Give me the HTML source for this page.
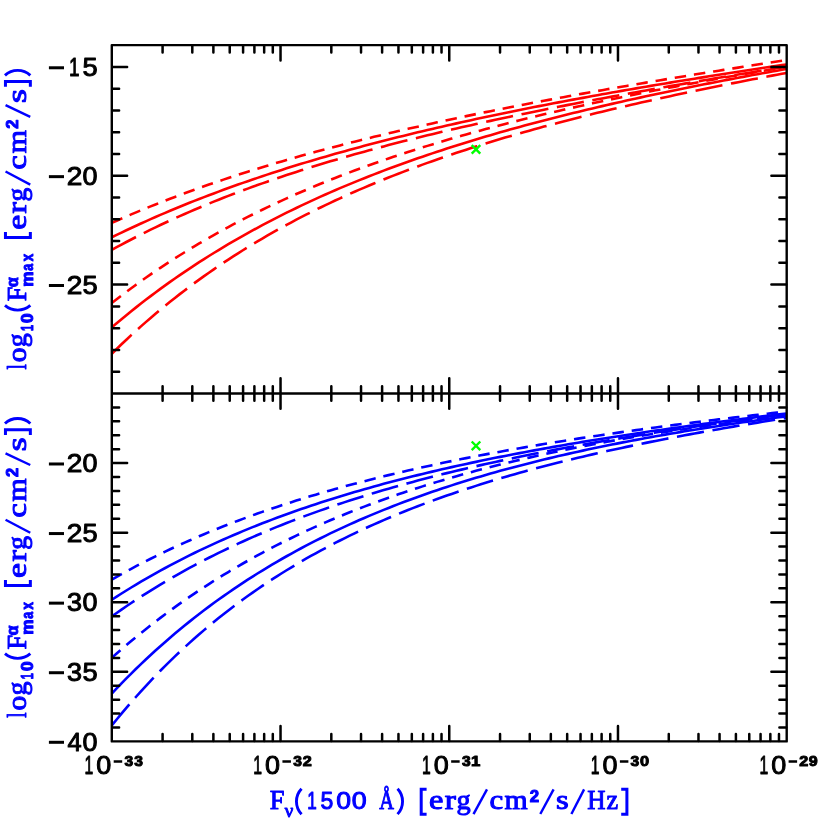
<!DOCTYPE html>
<html><head><meta charset="utf-8"><title>chart</title>
<style>html,body{margin:0;padding:0;background:#fff;overflow:hidden}svg{display:block;will-change:transform}text{font-kerning:none}</style></head>
<body>
<svg width="830" height="830" viewBox="0 0 830 830">
<rect width="830" height="830" fill="#fff"/>
<defs><clipPath id="ct"><rect x="111.80" y="45.10" width="674.90" height="348.40"/></clipPath>
<clipPath id="cb"><rect x="111.80" y="393.50" width="674.90" height="347.90"/></clipPath></defs>
<g clip-path="url(#ct)" fill="none" stroke="#ff0000" stroke-width="2.60">
<path d="M111.80 222.90 L116.66 220.74 L121.51 218.60 L126.37 216.50 L131.22 214.42 L136.08 212.37 L140.93 210.35 L145.79 208.35 L150.64 206.38 L155.50 204.44 L160.35 202.52 L165.21 200.62 L170.06 198.75 L174.92 196.91 L179.78 195.08 L184.63 193.28 L189.49 191.50 L194.34 189.74 L199.20 188.01 L204.05 186.29 L208.91 184.60 L213.76 182.93 L218.62 181.27 L223.47 179.64 L228.33 178.02 L233.18 176.43 L238.04 174.85 L242.90 173.29 L247.75 171.75 L252.61 170.22 L257.46 168.71 L262.32 167.22 L267.17 165.75 L272.03 164.29 L276.88 162.85 L281.74 161.42 L286.59 160.00 L291.45 158.61 L296.31 157.22 L301.16 155.85 L306.02 154.50 L310.87 153.16 L315.73 151.83 L320.58 150.52 L325.44 149.22 L330.29 147.93 L335.15 146.65 L340.00 145.39 L344.86 144.13 L349.71 142.89 L354.57 141.67 L359.43 140.45 L364.28 139.24 L369.14 138.05 L373.99 136.86 L378.85 135.69 L383.70 134.52 L388.56 133.37 L393.41 132.23 L398.27 131.09 L403.12 129.97 L407.98 128.85 L412.83 127.75 L417.69 126.65 L422.55 125.56 L427.40 124.48 L432.26 123.41 L437.11 122.35 L441.97 121.29 L446.82 120.24 L451.68 119.20 L456.53 118.17 L461.39 117.15 L466.24 116.13 L471.10 115.12 L475.95 114.12 L480.81 113.13 L485.67 112.14 L490.52 111.16 L495.38 110.18 L500.23 109.21 L505.09 108.25 L509.94 107.30 L514.80 106.35 L519.65 105.40 L524.51 104.46 L529.36 103.53 L534.22 102.61 L539.07 101.68 L543.93 100.77 L548.79 99.86 L553.64 98.95 L558.50 98.05 L563.35 97.16 L568.21 96.27 L573.06 95.38 L577.92 94.50 L582.77 93.63 L587.63 92.76 L592.48 91.89 L597.34 91.03 L602.19 90.17 L607.05 89.32 L611.91 88.47 L616.76 87.62 L621.62 86.78 L626.47 85.94 L631.33 85.11 L636.18 84.28 L641.04 83.45 L645.89 82.63 L650.75 81.81 L655.60 80.99 L660.46 80.18 L665.32 79.37 L670.17 78.57 L675.03 77.76 L679.88 76.96 L684.74 76.17 L689.59 75.37 L694.45 74.58 L699.30 73.80 L704.16 73.01 L709.01 72.23 L713.87 71.45 L718.72 70.68 L723.58 69.90 L728.44 69.13 L733.29 68.36 L738.15 67.60 L743.00 66.83 L747.86 66.07 L752.71 65.31 L757.57 64.56 L762.42 63.80 L767.28 63.05 L772.13 62.30 L776.99 61.55 L781.84 60.81 L786.70 60.06" stroke-dasharray="11.5 7.93" stroke-dashoffset="0"/>
<path d="M111.80 237.27 L116.66 234.90 L121.51 232.56 L126.37 230.25 L131.22 227.97 L136.08 225.72 L140.93 223.51 L145.79 221.32 L150.64 219.15 L155.50 217.02 L160.35 214.91 L165.21 212.83 L170.06 210.78 L174.92 208.75 L179.78 206.75 L184.63 204.77 L189.49 202.82 L194.34 200.90 L199.20 198.99 L204.05 197.11 L208.91 195.25 L213.76 193.42 L218.62 191.61 L223.47 189.82 L228.33 188.05 L233.18 186.30 L238.04 184.57 L242.90 182.86 L247.75 181.18 L252.61 179.51 L257.46 177.86 L262.32 176.23 L267.17 174.62 L272.03 173.03 L276.88 171.45 L281.74 169.90 L286.59 168.36 L291.45 166.83 L296.31 165.33 L301.16 163.84 L306.02 162.37 L310.87 160.91 L315.73 159.47 L320.58 158.04 L325.44 156.63 L330.29 155.24 L335.15 153.85 L340.00 152.49 L344.86 151.13 L349.71 149.79 L354.57 148.47 L359.43 147.15 L364.28 145.86 L369.14 144.57 L373.99 143.29 L378.85 142.03 L383.70 140.78 L388.56 139.55 L393.41 138.32 L398.27 137.11 L403.12 135.90 L407.98 134.71 L412.83 133.53 L417.69 132.36 L422.55 131.20 L427.40 130.05 L432.26 128.92 L437.11 127.79 L441.97 126.67 L446.82 125.56 L451.68 124.46 L456.53 123.37 L461.39 122.29 L466.24 121.22 L471.10 120.16 L475.95 119.10 L480.81 118.06 L485.67 117.02 L490.52 115.99 L495.38 114.97 L500.23 113.96 L505.09 112.96 L509.94 111.96 L514.80 110.97 L519.65 109.99 L524.51 109.01 L529.36 108.05 L534.22 107.09 L539.07 106.13 L543.93 105.19 L548.79 104.25 L553.64 103.31 L558.50 102.39 L563.35 101.47 L568.21 100.55 L573.06 99.65 L577.92 98.74 L582.77 97.85 L587.63 96.96 L592.48 96.07 L597.34 95.19 L602.19 94.32 L607.05 93.45 L611.91 92.59 L616.76 91.73 L621.62 90.88 L626.47 90.04 L631.33 89.19 L636.18 88.36 L641.04 87.53 L645.89 86.70 L650.75 85.87 L655.60 85.06 L660.46 84.24 L665.32 83.43 L670.17 82.63 L675.03 81.83 L679.88 81.03 L684.74 80.24 L689.59 79.45 L694.45 78.67 L699.30 77.89 L704.16 77.11 L709.01 76.34 L713.87 75.57 L718.72 74.80 L723.58 74.04 L728.44 73.28 L733.29 72.52 L738.15 71.77 L743.00 71.02 L747.86 70.28 L752.71 69.54 L757.57 68.80 L762.42 68.06 L767.28 67.33 L772.13 66.60 L776.99 65.87 L781.84 65.15 L786.70 64.43"/>
<path d="M111.80 249.89 L116.66 247.22 L121.51 244.60 L126.37 242.02 L131.22 239.48 L136.08 236.97 L140.93 234.51 L145.79 232.08 L150.64 229.69 L155.50 227.34 L160.35 225.02 L165.21 222.74 L170.06 220.49 L174.92 218.28 L179.78 216.09 L184.63 213.94 L189.49 211.82 L194.34 209.73 L199.20 207.68 L204.05 205.65 L208.91 203.64 L213.76 201.67 L218.62 199.73 L223.47 197.81 L228.33 195.91 L233.18 194.05 L238.04 192.21 L242.90 190.39 L247.75 188.60 L252.61 186.83 L257.46 185.08 L262.32 183.36 L267.17 181.66 L272.03 179.98 L276.88 178.32 L281.74 176.68 L286.59 175.06 L291.45 173.47 L296.31 171.89 L301.16 170.33 L306.02 168.79 L310.87 167.27 L315.73 165.76 L320.58 164.28 L325.44 162.81 L330.29 161.36 L335.15 159.92 L340.00 158.50 L344.86 157.10 L349.71 155.71 L354.57 154.33 L359.43 152.97 L364.28 151.63 L369.14 150.30 L373.99 148.98 L378.85 147.68 L383.70 146.39 L388.56 145.11 L393.41 143.85 L398.27 142.60 L403.12 141.36 L407.98 140.13 L412.83 138.92 L417.69 137.71 L422.55 136.52 L427.40 135.34 L432.26 134.16 L437.11 133.00 L441.97 131.85 L446.82 130.71 L451.68 129.58 L456.53 128.46 L461.39 127.35 L466.24 126.24 L471.10 125.15 L475.95 124.06 L480.81 122.99 L485.67 121.92 L490.52 120.86 L495.38 119.81 L500.23 118.77 L505.09 117.73 L509.94 116.70 L514.80 115.68 L519.65 114.67 L524.51 113.66 L529.36 112.66 L534.22 111.67 L539.07 110.68 L543.93 109.70 L548.79 108.73 L553.64 107.76 L558.50 106.80 L563.35 105.85 L568.21 104.90 L573.06 103.96 L577.92 103.02 L582.77 102.09 L587.63 101.16 L592.48 100.24 L597.34 99.33 L602.19 98.41 L607.05 97.51 L611.91 96.61 L616.76 95.71 L621.62 94.82 L626.47 93.93 L631.33 93.05 L636.18 92.17 L641.04 91.30 L645.89 90.43 L650.75 89.56 L655.60 88.70 L660.46 87.84 L665.32 86.99 L670.17 86.14 L675.03 85.29 L679.88 84.45 L684.74 83.61 L689.59 82.77 L694.45 81.94 L699.30 81.11 L704.16 80.28 L709.01 79.46 L713.87 78.64 L718.72 77.82 L723.58 77.01 L728.44 76.20 L733.29 75.39 L738.15 74.58 L743.00 73.78 L747.86 72.98 L752.71 72.18 L757.57 71.39 L762.42 70.60 L767.28 69.81 L772.13 69.02 L776.99 68.23 L781.84 67.45 L786.70 66.67" stroke-dasharray="27.4 8.7" stroke-dashoffset="0"/>
<path d="M111.80 302.98 L116.66 299.20 L121.51 295.48 L126.37 291.82 L131.22 288.23 L136.08 284.68 L140.93 281.20 L145.79 277.77 L150.64 274.40 L155.50 271.08 L160.35 267.81 L165.21 264.60 L170.06 261.43 L174.92 258.31 L179.78 255.25 L184.63 252.23 L189.49 249.26 L194.34 246.33 L199.20 243.45 L204.05 240.61 L208.91 237.82 L213.76 235.06 L218.62 232.36 L223.47 229.69 L228.33 227.06 L233.18 224.47 L238.04 221.92 L242.90 219.40 L247.75 216.93 L252.61 214.49 L257.46 212.08 L262.32 209.72 L267.17 207.38 L272.03 205.08 L276.88 202.81 L281.74 200.58 L286.59 198.37 L291.45 196.20 L296.31 194.06 L301.16 191.95 L306.02 189.86 L310.87 187.81 L315.73 185.78 L320.58 183.79 L325.44 181.82 L330.29 179.87 L335.15 177.95 L340.00 176.06 L344.86 174.20 L349.71 172.35 L354.57 170.54 L359.43 168.74 L364.28 166.97 L369.14 165.22 L373.99 163.50 L378.85 161.79 L383.70 160.11 L388.56 158.45 L393.41 156.81 L398.27 155.19 L403.12 153.59 L407.98 152.01 L412.83 150.45 L417.69 148.91 L422.55 147.38 L427.40 145.88 L432.26 144.39 L437.11 142.92 L441.97 141.47 L446.82 140.03 L451.68 138.61 L456.53 137.21 L461.39 135.82 L466.24 134.44 L471.10 133.09 L475.95 131.74 L480.81 130.42 L485.67 129.10 L490.52 127.80 L495.38 126.52 L500.23 125.25 L505.09 123.99 L509.94 122.74 L514.80 121.51 L519.65 120.29 L524.51 119.08 L529.36 117.88 L534.22 116.70 L539.07 115.52 L543.93 114.36 L548.79 113.21 L553.64 112.07 L558.50 110.95 L563.35 109.83 L568.21 108.72 L573.06 107.62 L577.92 106.53 L582.77 105.46 L587.63 104.39 L592.48 103.33 L597.34 102.28 L602.19 101.24 L607.05 100.21 L611.91 99.18 L616.76 98.17 L621.62 97.16 L626.47 96.16 L631.33 95.17 L636.18 94.19 L641.04 93.22 L645.89 92.25 L650.75 91.29 L655.60 90.34 L660.46 89.39 L665.32 88.45 L670.17 87.52 L675.03 86.60 L679.88 85.68 L684.74 84.77 L689.59 83.86 L694.45 82.96 L699.30 82.07 L704.16 81.18 L709.01 80.30 L713.87 79.43 L718.72 78.56 L723.58 77.69 L728.44 76.84 L733.29 75.98 L738.15 75.13 L743.00 74.29 L747.86 73.45 L752.71 72.62 L757.57 71.79 L762.42 70.97 L767.28 70.15 L772.13 69.34 L776.99 68.53 L781.84 67.72 L786.70 66.92" stroke-dasharray="11.5 7.93" stroke-dashoffset="0"/>
<path d="M111.80 327.38 L116.66 323.25 L121.51 319.19 L126.37 315.19 L131.22 311.25 L136.08 307.38 L140.93 303.56 L145.79 299.81 L150.64 296.12 L155.50 292.48 L160.35 288.90 L165.21 285.38 L170.06 281.91 L174.92 278.50 L179.78 275.14 L184.63 271.83 L189.49 268.57 L194.34 265.36 L199.20 262.20 L204.05 259.09 L208.91 256.02 L213.76 253.00 L218.62 250.03 L223.47 247.10 L228.33 244.21 L233.18 241.37 L238.04 238.57 L242.90 235.81 L247.75 233.09 L252.61 230.41 L257.46 227.77 L262.32 225.17 L267.17 222.60 L272.03 220.07 L276.88 217.58 L281.74 215.12 L286.59 212.70 L291.45 210.31 L296.31 207.96 L301.16 205.64 L306.02 203.35 L310.87 201.09 L315.73 198.86 L320.58 196.67 L325.44 194.50 L330.29 192.36 L335.15 190.25 L340.00 188.17 L344.86 186.12 L349.71 184.10 L354.57 182.10 L359.43 180.12 L364.28 178.18 L369.14 176.26 L373.99 174.36 L378.85 172.49 L383.70 170.64 L388.56 168.81 L393.41 167.01 L398.27 165.23 L403.12 163.47 L407.98 161.73 L412.83 160.02 L417.69 158.33 L422.55 156.65 L427.40 155.00 L432.26 153.36 L437.11 151.75 L441.97 150.15 L446.82 148.58 L451.68 147.02 L456.53 145.48 L461.39 143.95 L466.24 142.45 L471.10 140.96 L475.95 139.49 L480.81 138.03 L485.67 136.59 L490.52 135.16 L495.38 133.76 L500.23 132.36 L505.09 130.98 L509.94 129.62 L514.80 128.27 L519.65 126.93 L524.51 125.61 L529.36 124.30 L534.22 123.00 L539.07 121.72 L543.93 120.45 L548.79 119.19 L553.64 117.95 L558.50 116.71 L563.35 115.49 L568.21 114.28 L573.06 113.08 L577.92 111.90 L582.77 110.72 L587.63 109.55 L592.48 108.40 L597.34 107.25 L602.19 106.12 L607.05 105.00 L611.91 103.88 L616.76 102.78 L621.62 101.68 L626.47 100.59 L631.33 99.52 L636.18 98.45 L641.04 97.39 L645.89 96.34 L650.75 95.29 L655.60 94.26 L660.46 93.23 L665.32 92.21 L670.17 91.20 L675.03 90.20 L679.88 89.20 L684.74 88.21 L689.59 87.23 L694.45 86.26 L699.30 85.29 L704.16 84.33 L709.01 83.38 L713.87 82.43 L718.72 81.49 L723.58 80.56 L728.44 79.63 L733.29 78.71 L738.15 77.79 L743.00 76.88 L747.86 75.98 L752.71 75.08 L757.57 74.19 L762.42 73.30 L767.28 72.42 L772.13 71.54 L776.99 70.67 L781.84 69.80 L786.70 68.94"/>
<path d="M111.80 353.71 L116.66 348.95 L121.51 344.28 L126.37 339.69 L131.22 335.17 L136.08 330.74 L140.93 326.39 L145.79 322.11 L150.64 317.90 L155.50 313.77 L160.35 309.71 L165.21 305.72 L170.06 301.80 L174.92 297.94 L179.78 294.15 L184.63 290.42 L189.49 286.76 L194.34 283.16 L199.20 279.62 L204.05 276.14 L208.91 272.71 L213.76 269.34 L218.62 266.03 L223.47 262.77 L228.33 259.57 L233.18 256.42 L238.04 253.32 L242.90 250.27 L247.75 247.26 L252.61 244.31 L257.46 241.40 L262.32 238.54 L267.17 235.72 L272.03 232.95 L276.88 230.22 L281.74 227.54 L286.59 224.89 L291.45 222.29 L296.31 219.72 L301.16 217.20 L306.02 214.71 L310.87 212.26 L315.73 209.85 L320.58 207.47 L325.44 205.13 L330.29 202.82 L335.15 200.55 L340.00 198.31 L344.86 196.10 L349.71 193.92 L354.57 191.77 L359.43 189.66 L364.28 187.57 L369.14 185.52 L373.99 183.49 L378.85 181.49 L383.70 179.51 L388.56 177.57 L393.41 175.65 L398.27 173.75 L403.12 171.89 L407.98 170.04 L412.83 168.22 L417.69 166.42 L422.55 164.65 L427.40 162.90 L432.26 161.17 L437.11 159.47 L441.97 157.78 L446.82 156.12 L451.68 154.47 L456.53 152.85 L461.39 151.24 L466.24 149.66 L471.10 148.09 L475.95 146.54 L480.81 145.02 L485.67 143.50 L490.52 142.01 L495.38 140.53 L500.23 139.07 L505.09 137.62 L509.94 136.20 L514.80 134.78 L519.65 133.38 L524.51 132.00 L529.36 130.63 L534.22 129.28 L539.07 127.94 L543.93 126.61 L548.79 125.30 L553.64 124.00 L558.50 122.71 L563.35 121.44 L568.21 120.18 L573.06 118.93 L577.92 117.69 L582.77 116.47 L587.63 115.25 L592.48 114.05 L597.34 112.86 L602.19 111.68 L607.05 110.50 L611.91 109.34 L616.76 108.19 L621.62 107.05 L626.47 105.92 L631.33 104.80 L636.18 103.69 L641.04 102.59 L645.89 101.49 L650.75 100.41 L655.60 99.33 L660.46 98.26 L665.32 97.20 L670.17 96.15 L675.03 95.10 L679.88 94.07 L684.74 93.04 L689.59 92.02 L694.45 91.00 L699.30 89.99 L704.16 88.99 L709.01 88.00 L713.87 87.01 L718.72 86.03 L723.58 85.06 L728.44 84.09 L733.29 83.13 L738.15 82.17 L743.00 81.22 L747.86 80.28 L752.71 79.34 L757.57 78.41 L762.42 77.48 L767.28 76.56 L772.13 75.64 L776.99 74.73 L781.84 73.82 L786.70 72.92" stroke-dasharray="27.4 8.7" stroke-dashoffset="0"/>
</g>
<g clip-path="url(#cb)" fill="none" stroke="#0000ff" stroke-width="2.60">
<path d="M111.80 579.52 L116.66 576.76 L121.51 574.06 L126.37 571.39 L131.22 568.77 L136.08 566.20 L140.93 563.66 L145.79 561.17 L150.64 558.72 L155.50 556.30 L160.35 553.93 L165.21 551.59 L170.06 549.29 L174.92 547.03 L179.78 544.81 L184.63 542.62 L189.49 540.46 L194.34 538.34 L199.20 536.25 L204.05 534.20 L208.91 532.17 L213.76 530.18 L218.62 528.22 L223.47 526.29 L228.33 524.39 L233.18 522.52 L238.04 520.67 L242.90 518.86 L247.75 517.07 L252.61 515.31 L257.46 513.58 L262.32 511.87 L267.17 510.19 L272.03 508.53 L276.88 506.90 L281.74 505.29 L286.59 503.70 L291.45 502.14 L296.31 500.60 L301.16 499.08 L306.02 497.59 L310.87 496.11 L315.73 494.66 L320.58 493.23 L325.44 491.82 L330.29 490.42 L335.15 489.05 L340.00 487.70 L344.86 486.36 L349.71 485.05 L354.57 483.75 L359.43 482.47 L364.28 481.20 L369.14 479.96 L373.99 478.73 L378.85 477.51 L383.70 476.32 L388.56 475.13 L393.41 473.97 L398.27 472.82 L403.12 471.68 L407.98 470.56 L412.83 469.45 L417.69 468.36 L422.55 467.28 L427.40 466.21 L432.26 465.16 L437.11 464.12 L441.97 463.09 L446.82 462.08 L451.68 461.07 L456.53 460.08 L461.39 459.10 L466.24 458.14 L471.10 457.18 L475.95 456.24 L480.81 455.30 L485.67 454.38 L490.52 453.47 L495.38 452.56 L500.23 451.67 L505.09 450.79 L509.94 449.92 L514.80 449.05 L519.65 448.20 L524.51 447.35 L529.36 446.52 L534.22 445.69 L539.07 444.87 L543.93 444.06 L548.79 443.26 L553.64 442.47 L558.50 441.68 L563.35 440.91 L568.21 440.14 L573.06 439.38 L577.92 438.62 L582.77 437.87 L587.63 437.13 L592.48 436.40 L597.34 435.67 L602.19 434.96 L607.05 434.24 L611.91 433.54 L616.76 432.84 L621.62 432.14 L626.47 431.45 L631.33 430.77 L636.18 430.10 L641.04 429.43 L645.89 428.76 L650.75 428.10 L655.60 427.45 L660.46 426.80 L665.32 426.16 L670.17 425.52 L675.03 424.89 L679.88 424.26 L684.74 423.64 L689.59 423.02 L694.45 422.41 L699.30 421.80 L704.16 421.19 L709.01 420.59 L713.87 420.00 L718.72 419.41 L723.58 418.82 L728.44 418.24 L733.29 417.66 L738.15 417.08 L743.00 416.51 L747.86 415.94 L752.71 415.38 L757.57 414.82 L762.42 414.26 L767.28 413.71 L772.13 413.16 L776.99 412.61 L781.84 412.07 L786.70 411.53" stroke-dasharray="11.5 7.93" stroke-dashoffset="0"/>
<path d="M111.80 599.74 L116.66 596.60 L121.51 593.52 L126.37 590.48 L131.22 587.50 L136.08 584.57 L140.93 581.69 L145.79 578.86 L150.64 576.08 L155.50 573.34 L160.35 570.65 L165.21 568.01 L170.06 565.41 L174.92 562.85 L179.78 560.34 L184.63 557.86 L189.49 555.43 L194.34 553.04 L199.20 550.68 L204.05 548.37 L208.91 546.09 L213.76 543.85 L218.62 541.65 L223.47 539.48 L228.33 537.34 L233.18 535.24 L238.04 533.18 L242.90 531.14 L247.75 529.14 L252.61 527.17 L257.46 525.23 L262.32 523.32 L267.17 521.44 L272.03 519.59 L276.88 517.77 L281.74 515.98 L286.59 514.21 L291.45 512.47 L296.31 510.76 L301.16 509.07 L306.02 507.41 L310.87 505.77 L315.73 504.16 L320.58 502.57 L325.44 501.00 L330.29 499.46 L335.15 497.94 L340.00 496.44 L344.86 494.97 L349.71 493.51 L354.57 492.07 L359.43 490.66 L364.28 489.26 L369.14 487.89 L373.99 486.53 L378.85 485.19 L383.70 483.87 L388.56 482.57 L393.41 481.29 L398.27 480.02 L403.12 478.77 L407.98 477.54 L412.83 476.32 L417.69 475.12 L422.55 473.94 L427.40 472.77 L432.26 471.62 L437.11 470.48 L441.97 469.35 L446.82 468.24 L451.68 467.14 L456.53 466.06 L461.39 464.99 L466.24 463.93 L471.10 462.89 L475.95 461.86 L480.81 460.84 L485.67 459.83 L490.52 458.84 L495.38 457.85 L500.23 456.88 L505.09 455.92 L509.94 454.97 L514.80 454.03 L519.65 453.10 L524.51 452.18 L529.36 451.27 L534.22 450.37 L539.07 449.48 L543.93 448.61 L548.79 447.74 L553.64 446.87 L558.50 446.02 L563.35 445.18 L568.21 444.34 L573.06 443.52 L577.92 442.70 L582.77 441.89 L587.63 441.09 L592.48 440.29 L597.34 439.51 L602.19 438.73 L607.05 437.96 L611.91 437.19 L616.76 436.44 L621.62 435.69 L626.47 434.94 L631.33 434.21 L636.18 433.48 L641.04 432.75 L645.89 432.03 L650.75 431.32 L655.60 430.62 L660.46 429.92 L665.32 429.22 L670.17 428.53 L675.03 427.85 L679.88 427.17 L684.74 426.50 L689.59 425.84 L694.45 425.17 L699.30 424.52 L704.16 423.87 L709.01 423.22 L713.87 422.58 L718.72 421.94 L723.58 421.31 L728.44 420.68 L733.29 420.05 L738.15 419.43 L743.00 418.82 L747.86 418.21 L752.71 417.60 L757.57 417.00 L762.42 416.40 L767.28 415.80 L772.13 415.21 L776.99 414.62 L781.84 414.04 L786.70 413.46"/>
<path d="M111.80 616.41 L116.66 612.97 L121.51 609.60 L126.37 606.28 L131.22 603.02 L136.08 599.82 L140.93 596.67 L145.79 593.57 L150.64 590.53 L155.50 587.54 L160.35 584.60 L165.21 581.71 L170.06 578.87 L174.92 576.07 L179.78 573.33 L184.63 570.63 L189.49 567.97 L194.34 565.36 L199.20 562.79 L204.05 560.26 L208.91 557.78 L213.76 555.33 L218.62 552.93 L223.47 550.56 L228.33 548.23 L233.18 545.94 L238.04 543.69 L242.90 541.47 L247.75 539.29 L252.61 537.15 L257.46 535.03 L262.32 532.95 L267.17 530.91 L272.03 528.89 L276.88 526.91 L281.74 524.96 L286.59 523.03 L291.45 521.14 L296.31 519.28 L301.16 517.44 L306.02 515.63 L310.87 513.85 L315.73 512.10 L320.58 510.37 L325.44 508.67 L330.29 506.99 L335.15 505.34 L340.00 503.71 L344.86 502.11 L349.71 500.52 L354.57 498.97 L359.43 497.43 L364.28 495.92 L369.14 494.42 L373.99 492.95 L378.85 491.50 L383.70 490.07 L388.56 488.66 L393.41 487.27 L398.27 485.89 L403.12 484.54 L407.98 483.20 L412.83 481.89 L417.69 480.59 L422.55 479.30 L427.40 478.04 L432.26 476.79 L437.11 475.55 L441.97 474.34 L446.82 473.13 L451.68 471.95 L456.53 470.78 L461.39 469.62 L466.24 468.48 L471.10 467.35 L475.95 466.23 L480.81 465.13 L485.67 464.04 L490.52 462.97 L495.38 461.91 L500.23 460.86 L505.09 459.82 L509.94 458.79 L514.80 457.78 L519.65 456.78 L524.51 455.79 L529.36 454.81 L534.22 453.84 L539.07 452.88 L543.93 451.93 L548.79 450.99 L553.64 450.07 L558.50 449.15 L563.35 448.24 L568.21 447.34 L573.06 446.45 L577.92 445.57 L582.77 444.70 L587.63 443.84 L592.48 442.98 L597.34 442.14 L602.19 441.30 L607.05 440.47 L611.91 439.65 L616.76 438.84 L621.62 438.03 L626.47 437.23 L631.33 436.44 L636.18 435.65 L641.04 434.88 L645.89 434.11 L650.75 433.34 L655.60 432.58 L660.46 431.83 L665.32 431.09 L670.17 430.35 L675.03 429.62 L679.88 428.89 L684.74 428.17 L689.59 427.46 L694.45 426.75 L699.30 426.04 L704.16 425.35 L709.01 424.65 L713.87 423.97 L718.72 423.28 L723.58 422.61 L728.44 421.93 L733.29 421.27 L738.15 420.60 L743.00 419.94 L747.86 419.29 L752.71 418.64 L757.57 417.99 L762.42 417.35 L767.28 416.72 L772.13 416.08 L776.99 415.45 L781.84 414.83 L786.70 414.21" stroke-dasharray="27.4 8.7" stroke-dashoffset="0"/>
<path d="M111.80 657.89 L116.66 653.57 L121.51 649.33 L126.37 645.16 L131.22 641.07 L136.08 637.04 L140.93 633.07 L145.79 629.18 L150.64 625.35 L155.50 621.58 L160.35 617.87 L165.21 614.23 L170.06 610.65 L174.92 607.13 L179.78 603.66 L184.63 600.26 L189.49 596.91 L194.34 593.61 L199.20 590.37 L204.05 587.18 L208.91 584.05 L213.76 580.97 L218.62 577.93 L223.47 574.95 L228.33 572.02 L233.18 569.13 L238.04 566.29 L242.90 563.50 L247.75 560.76 L252.61 558.06 L257.46 555.40 L262.32 552.78 L267.17 550.21 L272.03 547.68 L276.88 545.19 L281.74 542.74 L286.59 540.33 L291.45 537.96 L296.31 535.63 L301.16 533.33 L306.02 531.08 L310.87 528.85 L315.73 526.67 L320.58 524.51 L325.44 522.40 L330.29 520.31 L335.15 518.26 L340.00 516.24 L344.86 514.26 L349.71 512.30 L354.57 510.38 L359.43 508.48 L364.28 506.62 L369.14 504.78 L373.99 502.97 L378.85 501.19 L383.70 499.44 L388.56 497.72 L393.41 496.02 L398.27 494.35 L403.12 492.71 L407.98 491.09 L412.83 489.49 L417.69 487.92 L422.55 486.37 L427.40 484.85 L432.26 483.35 L437.11 481.87 L441.97 480.42 L446.82 478.98 L451.68 477.57 L456.53 476.18 L461.39 474.81 L466.24 473.46 L471.10 472.13 L475.95 470.82 L480.81 469.53 L485.67 468.26 L490.52 467.01 L495.38 465.77 L500.23 464.56 L505.09 463.36 L509.94 462.18 L514.80 461.01 L519.65 459.86 L524.51 458.73 L529.36 457.62 L534.22 456.52 L539.07 455.44 L543.93 454.37 L548.79 453.32 L553.64 452.28 L558.50 451.25 L563.35 450.24 L568.21 449.25 L573.06 448.27 L577.92 447.30 L582.77 446.35 L587.63 445.40 L592.48 444.48 L597.34 443.56 L602.19 442.66 L607.05 441.76 L611.91 440.88 L616.76 440.02 L621.62 439.16 L626.47 438.32 L631.33 437.48 L636.18 436.66 L641.04 435.85 L645.89 435.05 L650.75 434.25 L655.60 433.47 L660.46 432.70 L665.32 431.94 L670.17 431.19 L675.03 430.45 L679.88 429.71 L684.74 428.99 L689.59 428.28 L694.45 427.57 L699.30 426.87 L704.16 426.18 L709.01 425.50 L713.87 424.83 L718.72 424.17 L723.58 423.51 L728.44 422.86 L733.29 422.22 L738.15 421.59 L743.00 420.96 L747.86 420.35 L752.71 419.73 L757.57 419.13 L762.42 418.53 L767.28 417.94 L772.13 417.36 L776.99 416.78 L781.84 416.21 L786.70 415.64" stroke-dasharray="11.5 7.93" stroke-dashoffset="0"/>
<path d="M111.80 693.53 L116.66 688.40 L121.51 683.36 L126.37 678.42 L131.22 673.56 L136.08 668.79 L140.93 664.11 L145.79 659.51 L150.64 654.99 L155.50 650.55 L160.35 646.20 L165.21 641.92 L170.06 637.71 L174.92 633.58 L179.78 629.53 L184.63 625.54 L189.49 621.63 L194.34 617.78 L199.20 614.01 L204.05 610.30 L208.91 606.65 L213.76 603.07 L218.62 599.55 L223.47 596.09 L228.33 592.70 L233.18 589.36 L238.04 586.08 L242.90 582.86 L247.75 579.69 L252.61 576.58 L257.46 573.52 L262.32 570.52 L267.17 567.56 L272.03 564.66 L276.88 561.81 L281.74 559.00 L286.59 556.25 L291.45 553.54 L296.31 550.87 L301.16 548.26 L306.02 545.68 L310.87 543.15 L315.73 540.66 L320.58 538.22 L325.44 535.81 L330.29 533.45 L335.15 531.12 L340.00 528.83 L344.86 526.58 L349.71 524.37 L354.57 522.20 L359.43 520.06 L364.28 517.95 L369.14 515.88 L373.99 513.85 L378.85 511.84 L383.70 509.87 L388.56 507.93 L393.41 506.03 L398.27 504.15 L403.12 502.30 L407.98 500.49 L412.83 498.70 L417.69 496.94 L422.55 495.20 L427.40 493.50 L432.26 491.82 L437.11 490.17 L441.97 488.54 L446.82 486.94 L451.68 485.37 L456.53 483.81 L461.39 482.29 L466.24 480.78 L471.10 479.30 L475.95 477.84 L480.81 476.40 L485.67 474.99 L490.52 473.59 L495.38 472.22 L500.23 470.87 L505.09 469.54 L509.94 468.22 L514.80 466.93 L519.65 465.65 L524.51 464.40 L529.36 463.16 L534.22 461.94 L539.07 460.73 L543.93 459.55 L548.79 458.38 L553.64 457.23 L558.50 456.09 L563.35 454.97 L568.21 453.86 L573.06 452.77 L577.92 451.70 L582.77 450.64 L587.63 449.59 L592.48 448.56 L597.34 447.54 L602.19 446.54 L607.05 445.55 L611.91 444.57 L616.76 443.61 L621.62 442.65 L626.47 441.71 L631.33 440.79 L636.18 439.87 L641.04 438.97 L645.89 438.07 L650.75 437.19 L655.60 436.32 L660.46 435.46 L665.32 434.61 L670.17 433.77 L675.03 432.94 L679.88 432.13 L684.74 431.32 L689.59 430.52 L694.45 429.73 L699.30 428.95 L704.16 428.18 L709.01 427.41 L713.87 426.66 L718.72 425.91 L723.58 425.18 L728.44 424.45 L733.29 423.73 L738.15 423.01 L743.00 422.31 L747.86 421.61 L752.71 420.92 L757.57 420.24 L762.42 419.56 L767.28 418.89 L772.13 418.23 L776.99 417.58 L781.84 416.93 L786.70 416.29"/>
<path d="M111.80 725.45 L116.66 719.47 L121.51 713.62 L126.37 707.87 L131.22 702.25 L136.08 696.74 L140.93 691.34 L145.79 686.04 L150.64 680.85 L155.50 675.77 L160.35 670.78 L165.21 665.90 L170.06 661.11 L174.92 656.42 L179.78 651.81 L184.63 647.30 L189.49 642.88 L194.34 638.54 L199.20 634.29 L204.05 630.12 L208.91 626.03 L213.76 622.02 L218.62 618.09 L223.47 614.23 L228.33 610.45 L233.18 606.74 L238.04 603.10 L242.90 599.52 L247.75 596.02 L252.61 592.58 L257.46 589.21 L262.32 585.90 L267.17 582.65 L272.03 579.46 L276.88 576.34 L281.74 573.27 L286.59 570.25 L291.45 567.29 L296.31 564.39 L301.16 561.53 L306.02 558.73 L310.87 555.98 L315.73 553.28 L320.58 550.63 L325.44 548.03 L330.29 545.47 L335.15 542.96 L340.00 540.49 L344.86 538.06 L349.71 535.68 L354.57 533.34 L359.43 531.03 L364.28 528.77 L369.14 526.55 L373.99 524.36 L378.85 522.21 L383.70 520.10 L388.56 518.03 L393.41 515.98 L398.27 513.97 L403.12 512.00 L407.98 510.06 L412.83 508.14 L417.69 506.26 L422.55 504.41 L427.40 502.59 L432.26 500.80 L437.11 499.04 L441.97 497.30 L446.82 495.59 L451.68 493.91 L456.53 492.26 L461.39 490.62 L466.24 489.02 L471.10 487.44 L475.95 485.88 L480.81 484.34 L485.67 482.83 L490.52 481.34 L495.38 479.87 L500.23 478.42 L505.09 477.00 L509.94 475.59 L514.80 474.20 L519.65 472.84 L524.51 471.49 L529.36 470.16 L534.22 468.85 L539.07 467.55 L543.93 466.27 L548.79 465.02 L553.64 463.77 L558.50 462.54 L563.35 461.33 L568.21 460.14 L573.06 458.96 L577.92 457.79 L582.77 456.64 L587.63 455.50 L592.48 454.38 L597.34 453.27 L602.19 452.17 L607.05 451.09 L611.91 450.02 L616.76 448.96 L621.62 447.92 L626.47 446.88 L631.33 445.86 L636.18 444.85 L641.04 443.85 L645.89 442.86 L650.75 441.88 L655.60 440.91 L660.46 439.95 L665.32 439.00 L670.17 438.06 L675.03 437.14 L679.88 436.22 L684.74 435.30 L689.59 434.40 L694.45 433.51 L699.30 432.62 L704.16 431.75 L709.01 430.88 L713.87 430.02 L718.72 429.17 L723.58 428.32 L728.44 427.48 L733.29 426.65 L738.15 425.83 L743.00 425.01 L747.86 424.20 L752.71 423.40 L757.57 422.60 L762.42 421.81 L767.28 421.03 L772.13 420.25 L776.99 419.48 L781.84 418.71 L786.70 417.95" stroke-dasharray="27.4 8.7" stroke-dashoffset="0"/>
</g>
<path d="M471.70 145.10 L480.30 153.70 M471.70 153.70 L480.30 145.10" stroke="#00ff00" stroke-width="2.40" fill="none"/>
<path d="M471.70 441.50 L480.30 450.10 M471.70 450.10 L480.30 441.50" stroke="#00ff00" stroke-width="2.40" fill="none"/>
<g stroke="#000" stroke-width="2.40" fill="none" stroke-linecap="butt">
<rect x="111.80" y="45.10" width="674.90" height="696.30" stroke-linejoin="round"/>
<path d="M111.80 393.50 H786.70"/>
<path d="M162.59 45.60 v6.80 M162.59 386.20 v14.60 M162.59 740.90 v-6.80 M192.30 45.60 v6.80 M192.30 386.20 v14.60 M192.30 740.90 v-6.80 M213.38 45.60 v6.80 M213.38 386.20 v14.60 M213.38 740.90 v-6.80 M229.73 45.60 v6.80 M229.73 386.20 v14.60 M229.73 740.90 v-6.80 M243.09 45.60 v6.80 M243.09 386.20 v14.60 M243.09 740.90 v-6.80 M254.39 45.60 v6.80 M254.39 386.20 v14.60 M254.39 740.90 v-6.80 M264.17 45.60 v6.80 M264.17 386.20 v14.60 M264.17 740.90 v-6.80 M272.80 45.60 v6.80 M272.80 386.20 v14.60 M272.80 740.90 v-6.80 M280.53 45.60 v14.80 M280.53 378.20 v30.60 M280.53 740.90 v-14.80 M331.32 45.60 v6.80 M331.32 386.20 v14.60 M331.32 740.90 v-6.80 M361.03 45.60 v6.80 M361.03 386.20 v14.60 M361.03 740.90 v-6.80 M382.11 45.60 v6.80 M382.11 386.20 v14.60 M382.11 740.90 v-6.80 M398.46 45.60 v6.80 M398.46 386.20 v14.60 M398.46 740.90 v-6.80 M411.82 45.60 v6.80 M411.82 386.20 v14.60 M411.82 740.90 v-6.80 M423.11 45.60 v6.80 M423.11 386.20 v14.60 M423.11 740.90 v-6.80 M432.90 45.60 v6.80 M432.90 386.20 v14.60 M432.90 740.90 v-6.80 M441.53 45.60 v6.80 M441.53 386.20 v14.60 M441.53 740.90 v-6.80 M449.25 45.60 v14.80 M449.25 378.20 v30.60 M449.25 740.90 v-14.80 M500.04 45.60 v6.80 M500.04 386.20 v14.60 M500.04 740.90 v-6.80 M529.75 45.60 v6.80 M529.75 386.20 v14.60 M529.75 740.90 v-6.80 M550.83 45.60 v6.80 M550.83 386.20 v14.60 M550.83 740.90 v-6.80 M567.18 45.60 v6.80 M567.18 386.20 v14.60 M567.18 740.90 v-6.80 M580.54 45.60 v6.80 M580.54 386.20 v14.60 M580.54 740.90 v-6.80 M591.84 45.60 v6.80 M591.84 386.20 v14.60 M591.84 740.90 v-6.80 M601.62 45.60 v6.80 M601.62 386.20 v14.60 M601.62 740.90 v-6.80 M610.25 45.60 v6.80 M610.25 386.20 v14.60 M610.25 740.90 v-6.80 M617.98 45.60 v14.80 M617.98 378.20 v30.60 M617.98 740.90 v-14.80 M668.77 45.60 v6.80 M668.77 386.20 v14.60 M668.77 740.90 v-6.80 M698.48 45.60 v6.80 M698.48 386.20 v14.60 M698.48 740.90 v-6.80 M719.56 45.60 v6.80 M719.56 386.20 v14.60 M719.56 740.90 v-6.80 M735.91 45.60 v6.80 M735.91 386.20 v14.60 M735.91 740.90 v-6.80 M749.27 45.60 v6.80 M749.27 386.20 v14.60 M749.27 740.90 v-6.80 M760.56 45.60 v6.80 M760.56 386.20 v14.60 M760.56 740.90 v-6.80 M770.35 45.60 v6.80 M770.35 386.20 v14.60 M770.35 740.90 v-6.80 M778.98 45.60 v6.80 M778.98 386.20 v14.60 M778.98 740.90 v-6.80 M112.30 371.73 h6.80 M786.20 371.73 h-6.80 M112.30 349.95 h6.80 M786.20 349.95 h-6.80 M112.30 328.18 h6.80 M786.20 328.18 h-6.80 M112.30 306.40 h6.80 M786.20 306.40 h-6.80 M112.30 284.62 h14.80 M786.20 284.62 h-14.80 M112.30 262.85 h6.80 M786.20 262.85 h-6.80 M112.30 241.07 h6.80 M786.20 241.07 h-6.80 M112.30 219.30 h6.80 M786.20 219.30 h-6.80 M112.30 197.52 h6.80 M786.20 197.52 h-6.80 M112.30 175.75 h14.80 M786.20 175.75 h-14.80 M112.30 153.97 h6.80 M786.20 153.97 h-6.80 M112.30 132.20 h6.80 M786.20 132.20 h-6.80 M112.30 110.42 h6.80 M786.20 110.42 h-6.80 M112.30 88.65 h6.80 M786.20 88.65 h-6.80 M112.30 66.88 h14.80 M786.20 66.88 h-14.80 M112.30 727.48 h6.80 M786.20 727.48 h-6.80 M112.30 713.57 h6.80 M786.20 713.57 h-6.80 M112.30 699.65 h6.80 M786.20 699.65 h-6.80 M112.30 685.74 h6.80 M786.20 685.74 h-6.80 M112.30 671.82 h14.80 M786.20 671.82 h-14.80 M112.30 657.90 h6.80 M786.20 657.90 h-6.80 M112.30 643.99 h6.80 M786.20 643.99 h-6.80 M112.30 630.07 h6.80 M786.20 630.07 h-6.80 M112.30 616.16 h6.80 M786.20 616.16 h-6.80 M112.30 602.24 h14.80 M786.20 602.24 h-14.80 M112.30 588.32 h6.80 M786.20 588.32 h-6.80 M112.30 574.41 h6.80 M786.20 574.41 h-6.80 M112.30 560.49 h6.80 M786.20 560.49 h-6.80 M112.30 546.58 h6.80 M786.20 546.58 h-6.80 M112.30 532.66 h14.80 M786.20 532.66 h-14.80 M112.30 518.74 h6.80 M786.20 518.74 h-6.80 M112.30 504.83 h6.80 M786.20 504.83 h-6.80 M112.30 490.91 h6.80 M786.20 490.91 h-6.80 M112.30 477.00 h6.80 M786.20 477.00 h-6.80 M112.30 463.08 h14.80 M786.20 463.08 h-14.80 M112.30 449.16 h6.80 M786.20 449.16 h-6.80 M112.30 435.25 h6.80 M786.20 435.25 h-6.80 M112.30 421.33 h6.80 M786.20 421.33 h-6.80 M112.30 407.42 h6.80 M786.20 407.42 h-6.80" stroke-linecap="round" stroke-width="2.50"/>
</g>
<g fill="#000" stroke="#000" stroke-width="1.00" stroke-linejoin="round">
<path d="M48.90 67.78 L64.00 67.78" stroke="#000" stroke-width="3.00" fill="none"/>
<text transform="translate(69.05 76.08) scale(0.720 1)" font-family="'Liberation Sans', sans-serif" font-weight="normal" font-size="26.40">1</text>
<text transform="translate(82.41 76.08) scale(1.031 1)" font-family="'Liberation Sans', sans-serif" font-weight="normal" font-size="26.40">5</text>
<path d="M48.90 176.65 L64.00 176.65" stroke="#000" stroke-width="3.00" fill="none"/>
<text transform="translate(66.69 184.95) scale(1.064 1)" font-family="'Liberation Sans', sans-serif" font-weight="normal" font-size="26.40">2</text>
<text transform="translate(82.45 184.95) scale(1.022 1)" font-family="'Liberation Sans', sans-serif" font-weight="normal" font-size="26.40">0</text>
<path d="M48.90 285.52 L64.00 285.52" stroke="#000" stroke-width="3.00" fill="none"/>
<text transform="translate(66.69 293.82) scale(1.064 1)" font-family="'Liberation Sans', sans-serif" font-weight="normal" font-size="26.40">2</text>
<text transform="translate(82.41 293.82) scale(1.031 1)" font-family="'Liberation Sans', sans-serif" font-weight="normal" font-size="26.40">5</text>
<path d="M48.90 463.98 L64.00 463.98" stroke="#000" stroke-width="3.00" fill="none"/>
<text transform="translate(66.69 472.28) scale(1.064 1)" font-family="'Liberation Sans', sans-serif" font-weight="normal" font-size="26.40">2</text>
<text transform="translate(82.45 472.28) scale(1.022 1)" font-family="'Liberation Sans', sans-serif" font-weight="normal" font-size="26.40">0</text>
<path d="M48.90 533.56 L64.00 533.56" stroke="#000" stroke-width="3.00" fill="none"/>
<text transform="translate(66.69 541.86) scale(1.064 1)" font-family="'Liberation Sans', sans-serif" font-weight="normal" font-size="26.40">2</text>
<text transform="translate(82.41 541.86) scale(1.031 1)" font-family="'Liberation Sans', sans-serif" font-weight="normal" font-size="26.40">5</text>
<path d="M48.90 603.14 L64.00 603.14" stroke="#000" stroke-width="3.00" fill="none"/>
<text transform="translate(67.07 611.44) scale(1.023 1)" font-family="'Liberation Sans', sans-serif" font-weight="normal" font-size="26.40">3</text>
<text transform="translate(82.45 611.44) scale(1.022 1)" font-family="'Liberation Sans', sans-serif" font-weight="normal" font-size="26.40">0</text>
<path d="M48.90 672.72 L64.00 672.72" stroke="#000" stroke-width="3.00" fill="none"/>
<text transform="translate(67.07 681.02) scale(1.023 1)" font-family="'Liberation Sans', sans-serif" font-weight="normal" font-size="26.40">3</text>
<text transform="translate(82.41 681.02) scale(1.031 1)" font-family="'Liberation Sans', sans-serif" font-weight="normal" font-size="26.40">5</text>
<path d="M48.90 742.30 L64.00 742.30" stroke="#000" stroke-width="3.00" fill="none"/>
<text transform="translate(67.52 750.60) scale(0.962 1)" font-family="'Liberation Sans', sans-serif" font-weight="normal" font-size="26.40">4</text>
<text transform="translate(82.45 750.60) scale(1.022 1)" font-family="'Liberation Sans', sans-serif" font-weight="normal" font-size="26.40">0</text>
<text transform="translate(84.50 774.00) scale(0.597 1)" font-family="'Liberation Sans', sans-serif" font-weight="normal" font-size="26.40">1</text>
<text transform="translate(96.35 774.00) scale(1.022 1)" font-family="'Liberation Sans', sans-serif" font-weight="normal" font-size="26.40">0</text>
<path d="M113.70 761.50 L122.20 761.50" stroke="#000" stroke-width="2.50" fill="none"/>
<text transform="translate(124.44 766.40) scale(1.032 1)" font-family="'Liberation Sans', sans-serif" font-weight="bold" font-size="15.20">3</text>
<text transform="translate(134.14 766.40) scale(1.032 1)" font-family="'Liberation Sans', sans-serif" font-weight="bold" font-size="15.20">3</text>
<text transform="translate(253.22 774.00) scale(0.597 1)" font-family="'Liberation Sans', sans-serif" font-weight="normal" font-size="26.40">1</text>
<text transform="translate(265.07 774.00) scale(1.022 1)" font-family="'Liberation Sans', sans-serif" font-weight="normal" font-size="26.40">0</text>
<path d="M282.43 761.50 L290.93 761.50" stroke="#000" stroke-width="2.50" fill="none"/>
<text transform="translate(293.16 766.40) scale(1.032 1)" font-family="'Liberation Sans', sans-serif" font-weight="bold" font-size="15.20">3</text>
<text transform="translate(302.66 766.40) scale(1.066 1)" font-family="'Liberation Sans', sans-serif" font-weight="bold" font-size="15.20">2</text>
<text transform="translate(421.95 774.00) scale(0.597 1)" font-family="'Liberation Sans', sans-serif" font-weight="normal" font-size="26.40">1</text>
<text transform="translate(433.80 774.00) scale(1.022 1)" font-family="'Liberation Sans', sans-serif" font-weight="normal" font-size="26.40">0</text>
<path d="M451.15 761.50 L459.65 761.50" stroke="#000" stroke-width="2.50" fill="none"/>
<text transform="translate(461.89 766.40) scale(1.032 1)" font-family="'Liberation Sans', sans-serif" font-weight="bold" font-size="15.20">3</text>
<text transform="translate(470.89 766.40) scale(1.103 1)" font-family="'Liberation Sans', sans-serif" font-weight="bold" font-size="15.20">1</text>
<text transform="translate(590.67 774.00) scale(0.597 1)" font-family="'Liberation Sans', sans-serif" font-weight="normal" font-size="26.40">1</text>
<text transform="translate(602.52 774.00) scale(1.022 1)" font-family="'Liberation Sans', sans-serif" font-weight="normal" font-size="26.40">0</text>
<path d="M619.88 761.50 L628.38 761.50" stroke="#000" stroke-width="2.50" fill="none"/>
<text transform="translate(630.61 766.40) scale(1.032 1)" font-family="'Liberation Sans', sans-serif" font-weight="bold" font-size="15.20">3</text>
<text transform="translate(640.03 766.40) scale(1.079 1)" font-family="'Liberation Sans', sans-serif" font-weight="bold" font-size="15.20">0</text>
<text transform="translate(759.40 774.00) scale(0.597 1)" font-family="'Liberation Sans', sans-serif" font-weight="normal" font-size="26.40">1</text>
<text transform="translate(771.25 774.00) scale(1.022 1)" font-family="'Liberation Sans', sans-serif" font-weight="normal" font-size="26.40">0</text>
<path d="M788.60 761.50 L797.10 761.50" stroke="#000" stroke-width="2.50" fill="none"/>
<text transform="translate(799.14 766.40) scale(1.066 1)" font-family="'Liberation Sans', sans-serif" font-weight="bold" font-size="15.20">2</text>
<text transform="translate(808.84 766.40) scale(1.059 1)" font-family="'Liberation Sans', sans-serif" font-weight="bold" font-size="15.20">9</text>
</g>
<g fill="#0000ff" stroke="#0000ff" stroke-width="1.00" stroke-linejoin="round" transform="translate(25.50 370.20) rotate(-90)">
<text transform="translate(0.61 0.00) scale(0.703 1)" font-family="'Liberation Serif', serif" font-weight="normal" font-size="27.50">l</text>
<text transform="translate(7.88 0.00) scale(1.072 1)" font-family="'Liberation Serif', serif" font-weight="normal" font-size="27.50">o</text>
<text transform="translate(23.00 0.00) scale(1.013 1)" font-family="'Liberation Serif', serif" font-weight="normal" font-size="27.50">g</text>
<text transform="translate(39.22 7.40) scale(0.689 1)" font-family="'Liberation Sans', sans-serif" font-weight="bold" font-size="15.60">1</text>
<text transform="translate(47.32 7.40) scale(1.105 1)" font-family="'Liberation Sans', sans-serif" font-weight="bold" font-size="15.60">0</text>
<path d="M64.75 -20.53 A19.45 19.45 0 0 0 64.75 4.83" stroke="#0000ff" stroke-width="2.90" fill="none"/>
<text transform="translate(68.93 0.00) scale(0.970 1)" font-family="'Liberation Serif', serif" font-weight="normal" font-size="27.50">F</text>
<text transform="translate(83.08 -7.60) scale(1.020 1)" font-family="'Liberation Sans', sans-serif" font-weight="bold" font-size="15.60">α</text>
<text transform="translate(83.57 7.40) scale(1.103 1)" font-family="'Liberation Sans', sans-serif" font-weight="bold" font-size="15.60">m</text>
<text transform="translate(99.54 7.40) scale(0.793 1)" font-family="'Liberation Sans', sans-serif" font-weight="bold" font-size="15.60">a</text>
<text transform="translate(109.01 7.40) scale(0.852 1)" font-family="'Liberation Sans', sans-serif" font-weight="bold" font-size="15.60">x</text>
<path d="M138.30 -20.05 H132.80 V4.85 H138.30" stroke="#0000ff" stroke-width="3.00" fill="none" stroke-linejoin="miter"/>
<text transform="translate(140.48 0.00) scale(1.228 1)" font-family="'Liberation Serif', serif" font-weight="normal" font-size="27.50">e</text>
<text transform="translate(156.82 0.00) scale(1.243 1)" font-family="'Liberation Serif', serif" font-weight="normal" font-size="27.50">r</text>
<text transform="translate(168.72 0.00) scale(0.996 1)" font-family="'Liberation Serif', serif" font-weight="normal" font-size="27.50">g</text>
<path d="M185.61 4.75 L198.69 -19.95" stroke="#0000ff" stroke-width="2.40" fill="none"/>
<text transform="translate(200.55 0.00) scale(1.193 1)" font-family="'Liberation Serif', serif" font-weight="normal" font-size="27.50">c</text>
<text transform="translate(216.88 0.00) scale(1.079 1)" font-family="'Liberation Serif', serif" font-weight="normal" font-size="27.50">m</text>
<text transform="translate(241.43 -7.70) scale(1.052 1)" font-family="'Liberation Sans', sans-serif" font-weight="bold" font-size="15.60">2</text>
<path d="M253.41 4.75 L265.00 -19.95" stroke="#0000ff" stroke-width="2.40" fill="none"/>
<text transform="translate(267.23 0.00) scale(1.305 1)" font-family="'Liberation Serif', serif" font-weight="normal" font-size="27.50">s</text>
<path d="M283.40 -20.05 H288.60 V4.85 H283.40" stroke="#0000ff" stroke-width="3.00" fill="none" stroke-linejoin="miter"/>
<path d="M294.85 -20.53 A18.58 18.58 0 0 1 294.85 4.83" stroke="#0000ff" stroke-width="2.90" fill="none"/>
</g>
<g fill="#0000ff" stroke="#0000ff" stroke-width="1.00" stroke-linejoin="round" transform="translate(25.50 718.40) rotate(-90)">
<text transform="translate(0.61 0.00) scale(0.703 1)" font-family="'Liberation Serif', serif" font-weight="normal" font-size="27.50">l</text>
<text transform="translate(7.88 0.00) scale(1.072 1)" font-family="'Liberation Serif', serif" font-weight="normal" font-size="27.50">o</text>
<text transform="translate(23.00 0.00) scale(1.013 1)" font-family="'Liberation Serif', serif" font-weight="normal" font-size="27.50">g</text>
<text transform="translate(39.22 7.40) scale(0.689 1)" font-family="'Liberation Sans', sans-serif" font-weight="bold" font-size="15.60">1</text>
<text transform="translate(47.32 7.40) scale(1.105 1)" font-family="'Liberation Sans', sans-serif" font-weight="bold" font-size="15.60">0</text>
<path d="M64.75 -20.53 A19.45 19.45 0 0 0 64.75 4.83" stroke="#0000ff" stroke-width="2.90" fill="none"/>
<text transform="translate(68.93 0.00) scale(0.970 1)" font-family="'Liberation Serif', serif" font-weight="normal" font-size="27.50">F</text>
<text transform="translate(83.08 -7.60) scale(1.020 1)" font-family="'Liberation Sans', sans-serif" font-weight="bold" font-size="15.60">α</text>
<text transform="translate(83.57 7.40) scale(1.103 1)" font-family="'Liberation Sans', sans-serif" font-weight="bold" font-size="15.60">m</text>
<text transform="translate(99.54 7.40) scale(0.793 1)" font-family="'Liberation Sans', sans-serif" font-weight="bold" font-size="15.60">a</text>
<text transform="translate(109.01 7.40) scale(0.852 1)" font-family="'Liberation Sans', sans-serif" font-weight="bold" font-size="15.60">x</text>
<path d="M138.30 -20.05 H132.80 V4.85 H138.30" stroke="#0000ff" stroke-width="3.00" fill="none" stroke-linejoin="miter"/>
<text transform="translate(140.48 0.00) scale(1.228 1)" font-family="'Liberation Serif', serif" font-weight="normal" font-size="27.50">e</text>
<text transform="translate(156.82 0.00) scale(1.243 1)" font-family="'Liberation Serif', serif" font-weight="normal" font-size="27.50">r</text>
<text transform="translate(168.72 0.00) scale(0.996 1)" font-family="'Liberation Serif', serif" font-weight="normal" font-size="27.50">g</text>
<path d="M185.61 4.75 L198.69 -19.95" stroke="#0000ff" stroke-width="2.40" fill="none"/>
<text transform="translate(200.55 0.00) scale(1.193 1)" font-family="'Liberation Serif', serif" font-weight="normal" font-size="27.50">c</text>
<text transform="translate(216.88 0.00) scale(1.079 1)" font-family="'Liberation Serif', serif" font-weight="normal" font-size="27.50">m</text>
<text transform="translate(241.43 -7.70) scale(1.052 1)" font-family="'Liberation Sans', sans-serif" font-weight="bold" font-size="15.60">2</text>
<path d="M253.41 4.75 L265.00 -19.95" stroke="#0000ff" stroke-width="2.40" fill="none"/>
<text transform="translate(267.23 0.00) scale(1.305 1)" font-family="'Liberation Serif', serif" font-weight="normal" font-size="27.50">s</text>
<path d="M283.40 -20.05 H288.60 V4.85 H283.40" stroke="#0000ff" stroke-width="3.00" fill="none" stroke-linejoin="miter"/>
<path d="M294.85 -20.53 A18.58 18.58 0 0 1 294.85 4.83" stroke="#0000ff" stroke-width="2.90" fill="none"/>
</g>
<g fill="#0000ff" stroke="#0000ff" stroke-width="1.00" stroke-linejoin="round" transform="translate(0 809.30)">
<text transform="translate(269.64 0.00) scale(0.962 1)" font-family="'Liberation Serif', serif" font-weight="normal" font-size="27.50">F</text>
<text transform="translate(284.85 7.60) scale(0.988 1)" font-family="'Liberation Serif', serif" font-weight="normal" font-size="19.00">ν</text>
<path d="M301.55 -20.53 A18.31 18.31 0 0 0 301.55 4.83" stroke="#0000ff" stroke-width="2.90" fill="none"/>
<text transform="translate(307.19 0.00) scale(0.703 1)" font-family="'Liberation Sans', sans-serif" font-weight="normal" font-size="24.40">1</text>
<text transform="translate(320.38 0.00) scale(0.942 1)" font-family="'Liberation Sans', sans-serif" font-weight="normal" font-size="24.40">5</text>
<text transform="translate(336.16 0.00) scale(1.089 1)" font-family="'Liberation Sans', sans-serif" font-weight="normal" font-size="24.40">0</text>
<text transform="translate(351.65 0.00) scale(1.097 1)" font-family="'Liberation Sans', sans-serif" font-weight="normal" font-size="24.40">0</text>
<text transform="translate(379.30 0.00) scale(0.743 1)" font-family="'Liberation Serif', serif" font-weight="normal" font-size="27.50">Å</text>
<path d="M397.55 -20.53 A18.58 18.58 0 0 1 397.55 4.83" stroke="#0000ff" stroke-width="2.90" fill="none"/>
<path d="M426.60 -20.05 H421.20 V4.85 H426.60" stroke="#0000ff" stroke-width="3.00" fill="none" stroke-linejoin="miter"/>
<text transform="translate(429.03 0.00) scale(1.179 1)" font-family="'Liberation Serif', serif" font-weight="normal" font-size="27.50">e</text>
<text transform="translate(444.83 0.00) scale(1.219 1)" font-family="'Liberation Serif', serif" font-weight="normal" font-size="27.50">r</text>
<text transform="translate(456.58 0.00) scale(1.030 1)" font-family="'Liberation Serif', serif" font-weight="normal" font-size="27.50">g</text>
<path d="M473.50 4.75 L487.00 -19.95" stroke="#0000ff" stroke-width="2.40" fill="none"/>
<text transform="translate(489.52 0.00) scale(1.125 1)" font-family="'Liberation Serif', serif" font-weight="normal" font-size="27.50">c</text>
<text transform="translate(504.57 0.00) scale(1.084 1)" font-family="'Liberation Serif', serif" font-weight="normal" font-size="27.50">m</text>
<text transform="translate(529.72 -7.70) scale(1.078 1)" font-family="'Liberation Sans', sans-serif" font-weight="bold" font-size="15.60">2</text>
<path d="M540.30 4.75 L553.60 -19.95" stroke="#0000ff" stroke-width="2.40" fill="none"/>
<text transform="translate(556.06 0.00) scale(1.189 1)" font-family="'Liberation Serif', serif" font-weight="normal" font-size="27.50">s</text>
<path d="M571.40 4.75 L584.10 -19.95" stroke="#0000ff" stroke-width="2.40" fill="none"/>
<text transform="translate(587.17 0.00) scale(0.920 1)" font-family="'Liberation Serif', serif" font-weight="normal" font-size="27.50">H</text>
<text transform="translate(606.40 0.00) scale(0.953 1)" font-family="'Liberation Serif', serif" font-weight="normal" font-size="27.50">z</text>
<path d="M621.20 -20.05 H626.90 V4.85 H621.20" stroke="#0000ff" stroke-width="3.00" fill="none" stroke-linejoin="miter"/>
</g>
</svg>
</body></html>
